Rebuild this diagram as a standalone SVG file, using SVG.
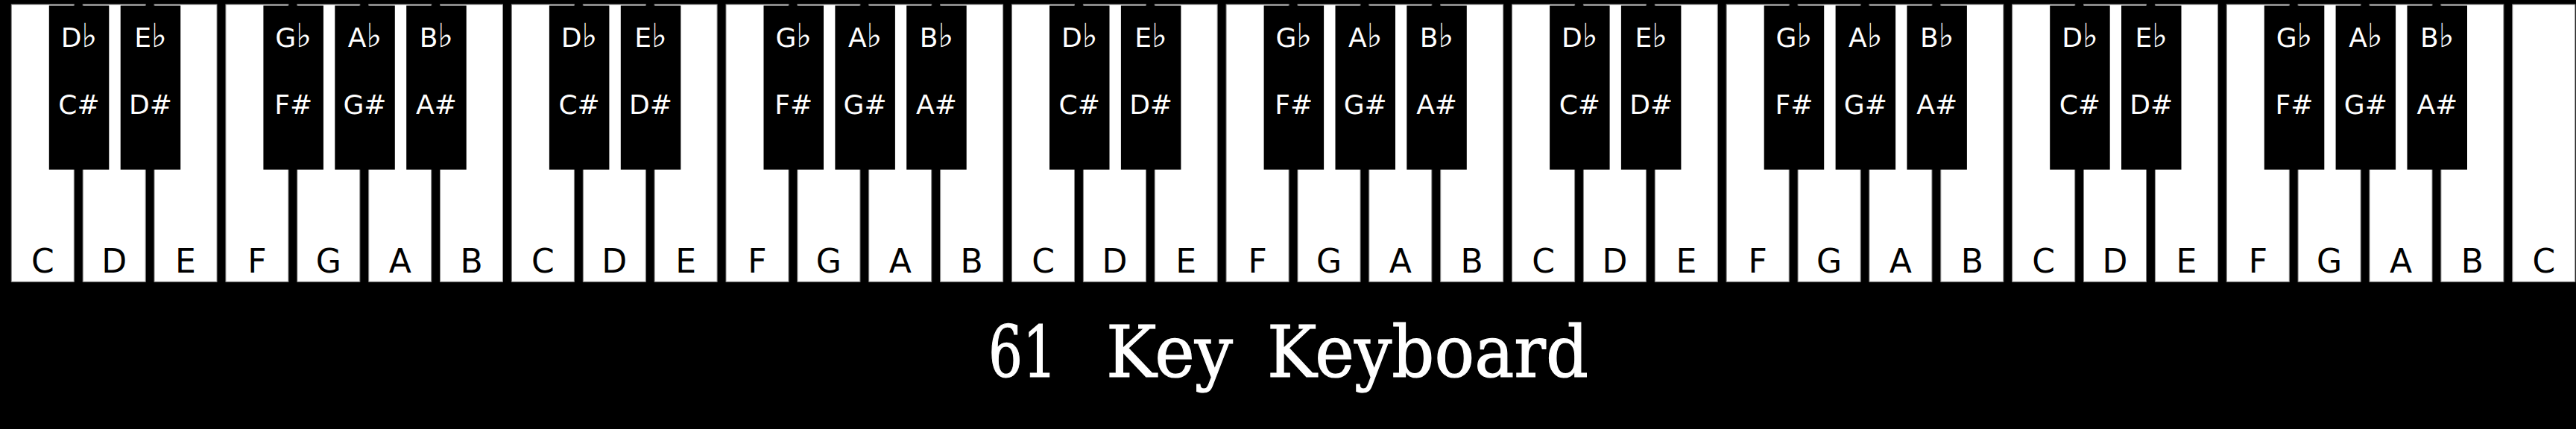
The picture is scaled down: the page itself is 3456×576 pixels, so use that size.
<svg xmlns="http://www.w3.org/2000/svg" width="3456" height="576" viewBox="0 0 3456 576">
<style>
.bg{fill:#000}
.w rect{fill:#fff;stroke:#8a8a8a;stroke-width:1}
.b rect{fill:#000}
.wl{font-family:"DejaVu Sans","Verdana",sans-serif;font-size:44px;fill:#000;text-anchor:middle}
.bl{font-family:"DejaVu Sans","Verdana",sans-serif;font-size:36px;fill:#fff;text-anchor:middle}
.fl{font-size:44px;font-style:italic}
.title{font-family:"DejaVu Serif","Liberation Serif",serif;font-size:95px;fill:#fff;stroke:#fff;stroke-width:1.2}
</style>
<rect class="bg" x="0" y="0" width="3456" height="576"/>
<g id="white-keys">
<g id="w0" class="w"><rect x="15.3" y="6" width="84" height="372.3"/><text class="wl" x="57.3" y="366">C</text></g>
<g id="w1" class="w"><rect x="111.2" y="6" width="84" height="372.3"/><text class="wl" x="153.2" y="366">D</text></g>
<g id="w2" class="w"><rect x="207.0" y="6" width="84" height="372.3"/><text class="wl" x="249.0" y="366">E</text></g>
<g id="w3" class="w"><rect x="302.9" y="6" width="84" height="372.3"/><text class="wl" x="344.9" y="366">F</text></g>
<g id="w4" class="w"><rect x="398.8" y="6" width="84" height="372.3"/><text class="wl" x="440.8" y="366">G</text></g>
<g id="w5" class="w"><rect x="494.7" y="6" width="84" height="372.3"/><text class="wl" x="536.7" y="366">A</text></g>
<g id="w6" class="w"><rect x="590.5" y="6" width="84" height="372.3"/><text class="wl" x="632.5" y="366">B</text></g>
<g id="w7" class="w"><rect x="686.4" y="6" width="84" height="372.3"/><text class="wl" x="728.4" y="366">C</text></g>
<g id="w8" class="w"><rect x="782.3" y="6" width="84" height="372.3"/><text class="wl" x="824.3" y="366">D</text></g>
<g id="w9" class="w"><rect x="878.1" y="6" width="84" height="372.3"/><text class="wl" x="920.1" y="366">E</text></g>
<g id="w10" class="w"><rect x="974.0" y="6" width="84" height="372.3"/><text class="wl" x="1016.0" y="366">F</text></g>
<g id="w11" class="w"><rect x="1069.9" y="6" width="84" height="372.3"/><text class="wl" x="1111.9" y="366">G</text></g>
<g id="w12" class="w"><rect x="1165.7" y="6" width="84" height="372.3"/><text class="wl" x="1207.7" y="366">A</text></g>
<g id="w13" class="w"><rect x="1261.6" y="6" width="84" height="372.3"/><text class="wl" x="1303.6" y="366">B</text></g>
<g id="w14" class="w"><rect x="1357.5" y="6" width="84" height="372.3"/><text class="wl" x="1399.5" y="366">C</text></g>
<g id="w15" class="w"><rect x="1453.4" y="6" width="84" height="372.3"/><text class="wl" x="1495.4" y="366">D</text></g>
<g id="w16" class="w"><rect x="1549.2" y="6" width="84" height="372.3"/><text class="wl" x="1591.2" y="366">E</text></g>
<g id="w17" class="w"><rect x="1645.1" y="6" width="84" height="372.3"/><text class="wl" x="1687.1" y="366">F</text></g>
<g id="w18" class="w"><rect x="1741.0" y="6" width="84" height="372.3"/><text class="wl" x="1783.0" y="366">G</text></g>
<g id="w19" class="w"><rect x="1836.8" y="6" width="84" height="372.3"/><text class="wl" x="1878.8" y="366">A</text></g>
<g id="w20" class="w"><rect x="1932.7" y="6" width="84" height="372.3"/><text class="wl" x="1974.7" y="366">B</text></g>
<g id="w21" class="w"><rect x="2028.6" y="6" width="84" height="372.3"/><text class="wl" x="2070.6" y="366">C</text></g>
<g id="w22" class="w"><rect x="2124.4" y="6" width="84" height="372.3"/><text class="wl" x="2166.4" y="366">D</text></g>
<g id="w23" class="w"><rect x="2220.3" y="6" width="84" height="372.3"/><text class="wl" x="2262.3" y="366">E</text></g>
<g id="w24" class="w"><rect x="2316.2" y="6" width="84" height="372.3"/><text class="wl" x="2358.2" y="366">F</text></g>
<g id="w25" class="w"><rect x="2412.1" y="6" width="84" height="372.3"/><text class="wl" x="2454.1" y="366">G</text></g>
<g id="w26" class="w"><rect x="2507.9" y="6" width="84" height="372.3"/><text class="wl" x="2549.9" y="366">A</text></g>
<g id="w27" class="w"><rect x="2603.8" y="6" width="84" height="372.3"/><text class="wl" x="2645.8" y="366">B</text></g>
<g id="w28" class="w"><rect x="2699.7" y="6" width="84" height="372.3"/><text class="wl" x="2741.7" y="366">C</text></g>
<g id="w29" class="w"><rect x="2795.5" y="6" width="84" height="372.3"/><text class="wl" x="2837.5" y="366">D</text></g>
<g id="w30" class="w"><rect x="2891.4" y="6" width="84" height="372.3"/><text class="wl" x="2933.4" y="366">E</text></g>
<g id="w31" class="w"><rect x="2987.3" y="6" width="84" height="372.3"/><text class="wl" x="3029.3" y="366">F</text></g>
<g id="w32" class="w"><rect x="3083.1" y="6" width="84" height="372.3"/><text class="wl" x="3125.1" y="366">G</text></g>
<g id="w33" class="w"><rect x="3179.0" y="6" width="84" height="372.3"/><text class="wl" x="3221.0" y="366">A</text></g>
<g id="w34" class="w"><rect x="3274.9" y="6" width="84" height="372.3"/><text class="wl" x="3316.9" y="366">B</text></g>
<g id="w35" class="w"><rect x="3370.8" y="6" width="84" height="372.3"/><text class="wl" x="3412.8" y="366">C</text></g>
</g>
<g id="black-keys">
<g id="b0" class="b"><rect x="65.8" y="7.5" width="80.5" height="220.2"/><text class="bl" x="106.0" y="63">D<tspan class="fl">♭</tspan></text><text class="bl" x="106.0" y="153">C#</text></g>
<g id="b1" class="b"><rect x="161.7" y="7.5" width="80.5" height="220.2"/><text class="bl" x="201.9" y="63">E<tspan class="fl">♭</tspan></text><text class="bl" x="201.9" y="153">D#</text></g>
<g id="b2" class="b"><rect x="353.4" y="7.5" width="80.5" height="220.2"/><text class="bl" x="393.7" y="63">G<tspan class="fl">♭</tspan></text><text class="bl" x="393.7" y="153">F#</text></g>
<g id="b3" class="b"><rect x="449.3" y="7.5" width="80.5" height="220.2"/><text class="bl" x="489.5" y="63">A<tspan class="fl">♭</tspan></text><text class="bl" x="489.5" y="153">G#</text></g>
<g id="b4" class="b"><rect x="545.2" y="7.5" width="80.5" height="220.2"/><text class="bl" x="585.4" y="63">B<tspan class="fl">♭</tspan></text><text class="bl" x="585.4" y="153">A#</text></g>
<g id="b5" class="b"><rect x="736.9" y="7.5" width="80.5" height="220.2"/><text class="bl" x="777.1" y="63">D<tspan class="fl">♭</tspan></text><text class="bl" x="777.1" y="153">C#</text></g>
<g id="b6" class="b"><rect x="832.8" y="7.5" width="80.5" height="220.2"/><text class="bl" x="873.0" y="63">E<tspan class="fl">♭</tspan></text><text class="bl" x="873.0" y="153">D#</text></g>
<g id="b7" class="b"><rect x="1024.5" y="7.5" width="80.5" height="220.2"/><text class="bl" x="1064.8" y="63">G<tspan class="fl">♭</tspan></text><text class="bl" x="1064.8" y="153">F#</text></g>
<g id="b8" class="b"><rect x="1120.4" y="7.5" width="80.5" height="220.2"/><text class="bl" x="1160.6" y="63">A<tspan class="fl">♭</tspan></text><text class="bl" x="1160.6" y="153">G#</text></g>
<g id="b9" class="b"><rect x="1216.2" y="7.5" width="80.5" height="220.2"/><text class="bl" x="1256.5" y="63">B<tspan class="fl">♭</tspan></text><text class="bl" x="1256.5" y="153">A#</text></g>
<g id="b10" class="b"><rect x="1408.0" y="7.5" width="80.5" height="220.2"/><text class="bl" x="1448.2" y="63">D<tspan class="fl">♭</tspan></text><text class="bl" x="1448.2" y="153">C#</text></g>
<g id="b11" class="b"><rect x="1503.9" y="7.5" width="80.5" height="220.2"/><text class="bl" x="1544.1" y="63">E<tspan class="fl">♭</tspan></text><text class="bl" x="1544.1" y="153">D#</text></g>
<g id="b12" class="b"><rect x="1695.6" y="7.5" width="80.5" height="220.2"/><text class="bl" x="1735.8" y="63">G<tspan class="fl">♭</tspan></text><text class="bl" x="1735.8" y="153">F#</text></g>
<g id="b13" class="b"><rect x="1791.5" y="7.5" width="80.5" height="220.2"/><text class="bl" x="1831.7" y="63">A<tspan class="fl">♭</tspan></text><text class="bl" x="1831.7" y="153">G#</text></g>
<g id="b14" class="b"><rect x="1887.3" y="7.5" width="80.5" height="220.2"/><text class="bl" x="1927.6" y="63">B<tspan class="fl">♭</tspan></text><text class="bl" x="1927.6" y="153">A#</text></g>
<g id="b15" class="b"><rect x="2079.1" y="7.5" width="80.5" height="220.2"/><text class="bl" x="2119.3" y="63">D<tspan class="fl">♭</tspan></text><text class="bl" x="2119.3" y="153">C#</text></g>
<g id="b16" class="b"><rect x="2174.9" y="7.5" width="80.5" height="220.2"/><text class="bl" x="2215.2" y="63">E<tspan class="fl">♭</tspan></text><text class="bl" x="2215.2" y="153">D#</text></g>
<g id="b17" class="b"><rect x="2366.7" y="7.5" width="80.5" height="220.2"/><text class="bl" x="2406.9" y="63">G<tspan class="fl">♭</tspan></text><text class="bl" x="2406.9" y="153">F#</text></g>
<g id="b18" class="b"><rect x="2462.6" y="7.5" width="80.5" height="220.2"/><text class="bl" x="2502.8" y="63">A<tspan class="fl">♭</tspan></text><text class="bl" x="2502.8" y="153">G#</text></g>
<g id="b19" class="b"><rect x="2558.4" y="7.5" width="80.5" height="220.2"/><text class="bl" x="2598.7" y="63">B<tspan class="fl">♭</tspan></text><text class="bl" x="2598.7" y="153">A#</text></g>
<g id="b20" class="b"><rect x="2750.2" y="7.5" width="80.5" height="220.2"/><text class="bl" x="2790.4" y="63">D<tspan class="fl">♭</tspan></text><text class="bl" x="2790.4" y="153">C#</text></g>
<g id="b21" class="b"><rect x="2846.0" y="7.5" width="80.5" height="220.2"/><text class="bl" x="2886.3" y="63">E<tspan class="fl">♭</tspan></text><text class="bl" x="2886.3" y="153">D#</text></g>
<g id="b22" class="b"><rect x="3037.8" y="7.5" width="80.5" height="220.2"/><text class="bl" x="3078.0" y="63">G<tspan class="fl">♭</tspan></text><text class="bl" x="3078.0" y="153">F#</text></g>
<g id="b23" class="b"><rect x="3133.6" y="7.5" width="80.5" height="220.2"/><text class="bl" x="3173.9" y="63">A<tspan class="fl">♭</tspan></text><text class="bl" x="3173.9" y="153">G#</text></g>
<g id="b24" class="b"><rect x="3229.5" y="7.5" width="80.5" height="220.2"/><text class="bl" x="3269.8" y="63">B<tspan class="fl">♭</tspan></text><text class="bl" x="3269.8" y="153">A#</text></g>
</g>
<g id="connectors"/>
<g id="title">
<text class="title" y="506"><tspan x="1326" textLength="92" lengthAdjust="spacingAndGlyphs">61</tspan> <tspan x="1484" textLength="170" lengthAdjust="spacingAndGlyphs">Key</tspan> <tspan x="1700" textLength="431" lengthAdjust="spacingAndGlyphs">Keyboard</tspan></text>
</g>
</svg>
